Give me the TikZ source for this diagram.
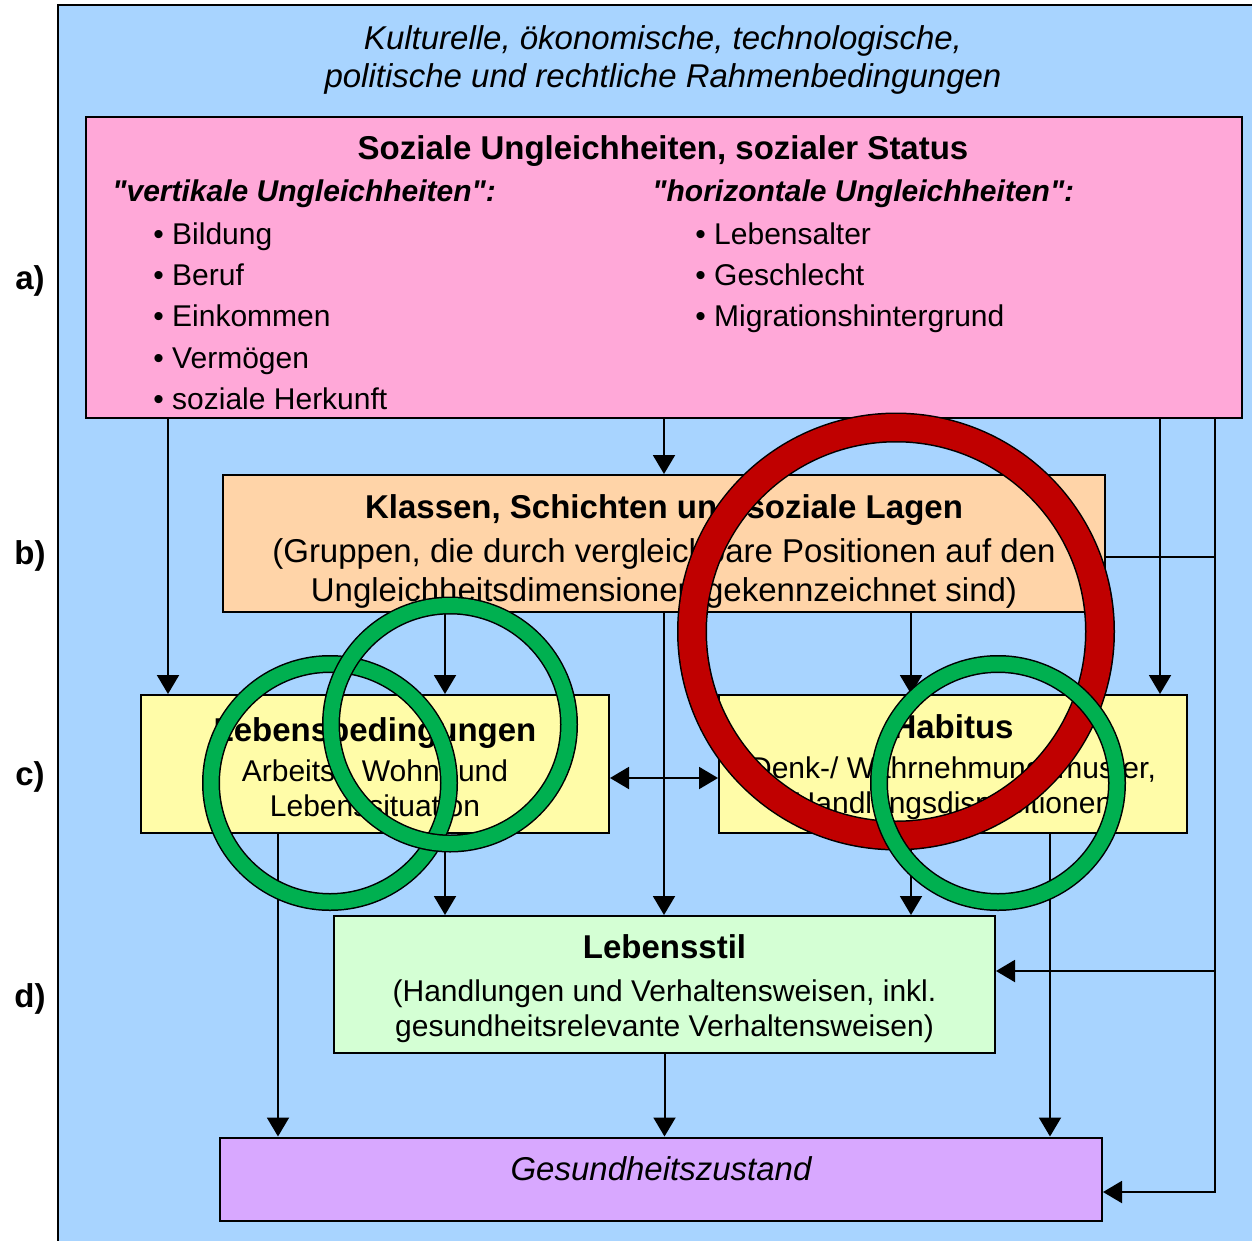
\documentclass[tikz,border=0pt]{standalone}
\usepackage{xcolor}
\usepackage{fontspec}
\setmainfont{Liberation Sans}
\usepackage{tikz}
\usetikzlibrary{arrows.meta}

\definecolor{umfeld}{RGB}{168,212,255}
\definecolor{statusrosa}{RGB}{255,168,216}
\definecolor{lagenorange}{RGB}{255,212,168}
\definecolor{habitusgelb}{RGB}{255,252,168}
\definecolor{stilgruen}{RGB}{212,255,212}
\definecolor{zustandlila}{RGB}{216,168,255}
\definecolor{ringrot}{RGB}{192,0,0}
\definecolor{ringgruen}{RGB}{0,176,80}

\newcommand{\schriftgross}{\fontsize{16.5}{19.5}\selectfont}
\newcommand{\schriftklein}{\fontsize{15}{17.5}\selectfont}

\begin{document}
\begin{tikzpicture}[%
	x=0.5pt, y=-0.5pt,
	ebene/.style={draw=black, line width=1pt, inner sep=0pt},
	inhalt/.style={align=center, inner sep=0pt},
	pfeil/.style={-{Triangle[length=9.5pt,width=11pt]}, line width=1pt},
	doppelpfeil/.style={{Triangle[length=9.5pt,width=11pt]}-{Triangle[length=9.5pt,width=11pt]}, line width=1pt},
	ring/.style={draw=black, line width=0.75pt},
	marke/.style={font=\schriftgross\bfseries, anchor=base}]
	\useasboundingbox (0,0) rectangle (1252,1241);
	\fill[umfeld] (58,5) rectangle (1252,1241);
	\draw[line width=0.75pt] (58,1241) -- (58,5) -- (1252,5);
	
	\node[anchor=north, align=center, inner sep=0pt, font=\itshape\fontsize{16.5}{19}\selectfont] (rahmen) at (663,25)
		{Kulturelle, ökonomische, technologische,\\politische und rechtliche Rahmenbedingungen};
	
	\node[marke] (ea) at (30,289) {a)};
	\node[marke] (eb) at (30,564) {b)};
	\node[marke] (ec) at (30,785) {c)};
	\node[marke] (ed) at (30,1007) {d)};
	
	\node[ebene, fill=statusrosa, minimum width=578pt, minimum height=150.5pt] (status) at (664,267.5) {};
	\node[anchor=base, font=\schriftgross\bfseries] (statuskopf) at (663,160) {Soziale Ungleichheiten, sozialer Status};
	\node[anchor=base west, inner sep=0pt, font=\schriftklein\bfseries\itshape] (vertikal) at (112,202)
		{\textquotedbl vertikale Ungleichheiten\textquotedbl:};
	\node[anchor=base west, inner sep=0pt, font=\schriftklein\bfseries\itshape] (horizontal) at (652,202)
		{\textquotedbl horizontale Ungleichheiten\textquotedbl:};
	\node[anchor=north west, align=left, inner sep=0pt, font=\fontsize{15}{20.65}\selectfont] (vertliste) at (153,222)
		{• Bildung\\• Beruf\\• Einkommen\\• Vermögen\\• soziale Herkunft};
	\node[anchor=north west, align=left, inner sep=0pt, font=\fontsize{15}{20.65}\selectfont] (horizliste) at (695,222)
		{• Lebensalter\\• Geschlecht\\• Migrationshintergrund};
	
	\node[ebene, fill=lagenorange, minimum width=441pt, minimum height=68.5pt] (lagen) at (664,543.5) {};
	\node[inhalt, font=\schriftgross] (lagentext) at ([yshift=-4pt]lagen.center)
		{\textbf{Klassen, Schichten und soziale Lagen}\\[2.5pt]
		(Gruppen, die durch vergleichbare Positionen auf den\\
		Ungleichheitsdimensionen gekennzeichnet sind)};
	
	\node[ebene, fill=habitusgelb, minimum width=234pt, minimum height=69pt] (leben) at (375,764) {};
	\node[inhalt, font=\schriftklein] (lebentext) at ([yshift=-1.5pt]leben.center)
		{{\fontsize{16.5}{17.5}\selectfont\bfseries Lebensbedingungen}\\[2.5pt]
		Arbeits-, Wohn- und\\Lebenssituation};
	\node[ebene, fill=habitusgelb, minimum width=234pt, minimum height=69pt] (habitus) at (953,764) {};
	\node[inhalt, font=\schriftklein] (habitustext) at ([yshift=-1.5pt]habitus.center)
		{{\fontsize{16.5}{17.5}\selectfont\bfseries Habitus}\\[2.5pt]
		Denk-/ Wahrnehmungsmuster,\\Handlungsdispositionen};
	
	\node[ebene, fill=stilgruen, minimum width=330.5pt, minimum height=68.5pt] (stil) at (664.5,984.5) {};
	\node[inhalt, font=\schriftklein] (stiltext) at ([yshift=-2.25pt]stil.center)
		{{\fontsize{16.5}{17.5}\selectfont\bfseries Lebensstil}\\[4pt]
		(Handlungen und Verhaltensweisen, inkl.\\
		gesundheitsrelevante Verhaltensweisen)};
	
	\node[ebene, fill=zustandlila, minimum width=441pt, text height=21.5pt, text depth=20pt,
		font=\itshape\fontsize{16.5}{19}\selectfont] (zustand) at (661,1179) {Gesundheitszustand};
	
	\coordinate (sp1) at (168,0);
	\coordinate (sp2) at (278,0);
	\coordinate (sp3) at (445,0);
	\coordinate (sp5) at (911,0);
	\coordinate (sp6) at (1050,0);
	\coordinate (sp7) at (1160,0);
	\coordinate (sp8) at (1215,0);
	\coordinate (rl) at (0,557);
	\coordinate (rh) at (0,778);
	\coordinate (rs) at (0,971);
	\coordinate (rz) at (0,1192);
	
	\draw[pfeil] (status.south -| sp1) -- (leben.north -| sp1);
	\draw[pfeil] (status.south) -- (lagen.north);
	\draw[pfeil] (status.south -| sp7) -- (habitus.north -| sp7);
	\draw[pfeil] (status.south -| sp8) |- (zustand.east |- rz);
	\draw[pfeil] (sp8 |- rs) -- (stil.east |- rs);
	\draw[line width=1pt] (lagen.east |- rl) -- (sp8 |- rl);
	\draw[pfeil] (lagen.south -| sp3) -- (leben.north -| sp3);
	\draw[pfeil] (lagen.south) -- (stil.north -| lagen.south);
	\draw[pfeil] (lagen.south -| sp5) -- (habitus.north -| sp5);
	\draw[doppelpfeil] (leben.east |- rh) -- (habitus.west |- rh);
	\draw[pfeil] (leben.south -| sp3) -- (stil.north -| sp3);
	\draw[pfeil] (habitus.south -| sp5) -- (stil.north -| sp5);
	\draw[pfeil] (leben.south -| sp2) -- (zustand.north -| sp2);
	\draw[pfeil] (habitus.south -| sp6) -- (zustand.north -| sp6);
	\draw[pfeil] (stil.south) -- (zustand.north -| stil.south);
	
	\draw[ring, double=ringrot, double distance=13.5pt] (896,631.5) circle[radius=102pt];
	\draw[ring, double=ringgruen, double distance=7.5pt] (330,783) circle[radius=59.5pt];
	\draw[ring, double=ringgruen, double distance=7.5pt] (450,724.5) circle[radius=59.5pt];
	\draw[ring, double=ringgruen, double distance=7.5pt] (998,783) circle[radius=59.5pt];
\end{tikzpicture}
\end{document}
